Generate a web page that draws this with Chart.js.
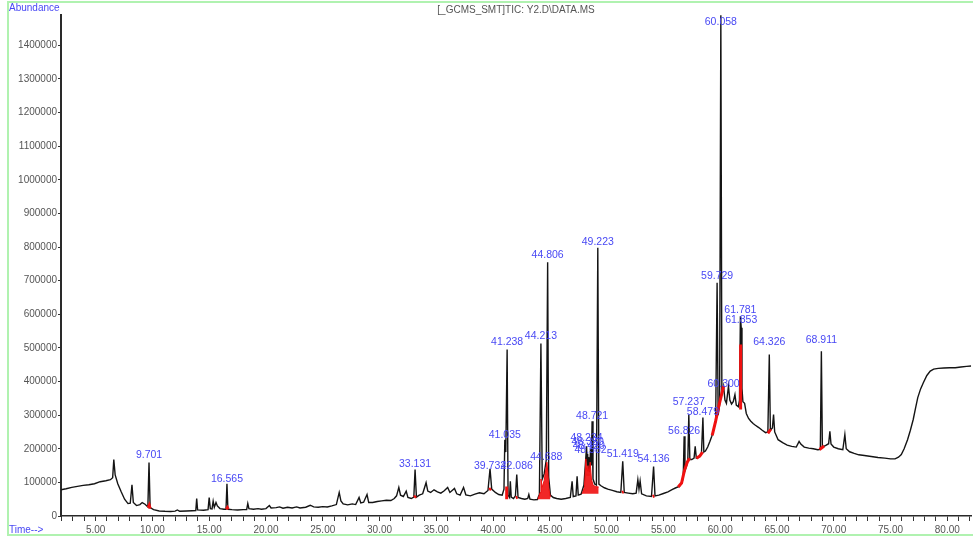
<!DOCTYPE html>
<html>
<head>
<meta charset="utf-8">
<script src="https://cdn.jsdelivr.net/npm/chart.js@4.4.1/dist/chart.umd.min.js"></script>
<style>
  html, body { margin: 0; padding: 0; background: #fff; }
  #wrap { width: 973px; height: 539px; position: relative; }
</style>
</head>
<body>
<div id="wrap"><canvas id="tic" width="973" height="539"></canvas></div>
<script>
// Total ion chromatogram: [retention time (min), abundance]
const traceEarly = [
  [1.95,78000],[2.4,81000],[2.9,85000],[3.4,88000],[3.9,91000],[4.4,93000],[4.9,96000],[5.4,102000],
  [5.9,105000],[6.3,108000],[6.5,114000],[6.6,168000],[6.72,122000],[6.95,96000],[7.25,72000],[7.55,50000],
  [7.85,37000],[8.05,38000],[8.2,93000],[8.32,40000],[8.6,31000],[8.9,34000],[9.1,40000],[9.35,35000],
  [9.6,27000],[9.701,159000],[9.8,25000],[10.1,19000],[10.6,15000],[11.1,14000],[11.6,13500],[12.0,14500],
  [12.2,18000],[12.4,14000],[13.0,15000],[13.5,15500],[13.82,16000],[13.9,52000],[13.98,18000],[14.5,17000],
  [14.9,19000],[15.0,55000],[15.1,22000],[15.25,21000],[15.35,44000],[15.45,26000],[15.6,40000],[15.72,30000],
  [15.95,22000],[16.3,20000],[16.48,20000],[16.565,96000],[16.65,20000],[17.0,19000],[17.5,18000],[18.0,19000],
  [18.3,19000],[18.4,37000],[18.5,22000],[18.9,20000],[19.3,22000],[19.6,20000],[20.0,22000],[20.3,31000],
  [20.45,24000],[20.9,25000],[21.2,27000],[21.5,23000],[21.9,26000],[22.3,24000],[22.7,27000],[23.0,24000],
  [23.5,26000],[23.9,32000],[24.2,27000],[24.6,26000],[25.0,28000],[25.4,27000],[25.8,30000],[26.2,34000],
  [26.45,70000],[26.6,45000],[26.8,36000],[27.2,33000],[27.6,36000],[27.9,34000],[28.2,55000],[28.35,39000],
  [28.6,41000],[28.9,64000],[29.05,40000],[29.4,40000],[29.8,43000],[30.2,45000],[30.6,47000],[31.0,46000],
  [31.3,52000],[31.5,60000],[31.7,85000],[31.85,62000],[32.1,58000],[32.35,74000],[32.5,55000],[32.8,52000],
  [33.02,56000],[33.131,138000],[33.25,56000],[33.5,62000],[33.8,66000],[34.1,99000],[34.25,74000],[34.5,70000],
  [34.8,78000],[35.1,72000],[35.4,68000],[35.7,75000],[36.0,85000],[36.2,70000],[36.6,82000],[36.8,66000],
  [37.1,62000],[37.4,85000],[37.6,63000],[38.0,60000],[38.4,65000],[38.8,69000],[39.2,66000],[39.55,76000],
  [39.732,140000],[39.88,80000],[40.2,70000],[40.5,64000]
];
const traceMid = [
  [40.8,62000],[40.96,80000],[41.035,227000],[41.12,190000],[41.238,495000],[41.32,62000],[41.45,55000],
  [41.52,103000],[41.6,56000],[41.8,52000],[41.97,60000],[42.086,123000],[42.2,55000],[42.5,52000],
  [42.8,50000],[43.05,52000],[43.15,64000],[43.25,50000],[43.6,48000],[43.9,49000],[44.08,65000],
  [44.213,513000],[44.33,110000],[44.5,125000],[44.688,168000],[44.806,755000],[44.9,115000],[45.05,62000],
  [45.3,55000],[45.6,52000],[46.0,50000],[46.4,52000],[46.8,55000],[46.96,103000],[47.06,58000],[47.3,60000],
  [47.4,118000],[47.5,62000],[47.75,65000],[48.0,92000],[48.12,150000],[48.234,207000],[48.29,150000],
  [48.33,185000],[48.38,140000],[48.42,175000],[48.5,130000],[48.582,200000],[48.65,150000],[48.721,282000],
  [48.8,110000],[48.95,95000],[49.1,92000],[49.223,798000],[49.32,95000],[49.5,90000],[49.8,84000],
  [50.1,80000],[50.5,76000],[50.9,72000],[51.25,70000],[51.419,163000],[51.55,70000],[51.9,68000],
  [52.3,66000],[52.6,68000],[52.75,108000],[52.85,80000],[52.95,104000],[53.08,66000],[53.5,60000],
  [53.95,58000],[54.136,147000],[54.26,60000],[54.6,62000],[55.0,67000],[55.4,72000],[55.8,79000]
];
const traceLate = [
  [56.1,84000],[56.4,88000],[56.65,100000],[56.75,120000],[56.826,237000],[56.9,135000],[57.05,150000],
  [57.15,165000],[57.237,302000],[57.33,168000],[57.5,168000],[57.7,172000],[57.8,207000],[57.9,172000],
  [58.1,174000],[58.35,185000],[58.479,293000],[58.56,190000],[58.7,193000],[58.9,205000],[59.1,222000],
  [59.26,237000],[59.45,260000],[59.6,280000],[59.729,694000],[59.82,300000],[59.95,330000],[60.058,1489000],
  [60.15,360000],[60.3,386000],[60.42,345000],[60.55,335000],[60.73,386000],[60.85,345000],[61.0,333000],
  [61.15,340000],[61.3,361000],[61.42,330000],[61.6,325000],[61.7,345000],[61.781,594000],[61.853,560000],
  [61.92,380000],[62.0,340000],[62.15,335000],[62.3,305000],[62.5,290000],[62.7,282000],[62.9,275000],
  [63.1,270000],[63.4,263000],[63.7,255000],[64.0,248000],[64.2,250000],[64.326,480000],[64.42,255000],
  [64.6,262000],[64.7,302000],[64.8,250000],[65.1,227000],[65.5,218000],[65.9,211000],[66.3,207000],
  [66.7,205000],[66.95,222000],[67.1,214000],[67.4,205000],[67.8,202000],[68.2,200000],[68.6,197000],
  [68.82,198000],[68.911,490000],[69.0,205000],[69.3,210000],[69.55,215000],[69.66,252000],[69.76,214000],
  [70.0,205000],[70.4,200000],[70.8,197000],[70.98,242000],[71.1,200000],[71.4,191000],[71.8,186000],
  [72.2,182000],[72.7,180000],[73.3,177000],[73.9,174000],[74.5,172000],[75.0,170000],[75.4,170000],
  [75.7,175000],[75.95,183000],[76.2,200000],[76.5,227000],[76.75,255000],[77.0,287000],[77.2,320000],
  [77.4,352000],[77.65,378000],[77.9,397000],[78.2,418000],[78.5,431000],[78.8,437000],[79.2,439000],
  [79.7,440000],[80.2,441000],[80.7,441000],[81.2,443000],[81.7,445000],[82.1,446000]
];

// Integration marks (red) at the foot of the integrated peaks
const integrationMarks = [
  [[9.62,25000],[9.72,32000],[9.8,22000]],
  [[16.5,20000],[16.6,25000],[16.68,20000]],
  [[33.05,55000],[33.2,60000]],
  [[39.65,78000],[39.82,82000]],
  [[41.2,50000],[41.2,88000]],
  [[42.0,54000],[42.15,56000]],
  [[51.35,70000],[51.5,72000]],
  [[54.05,58000],[54.2,60000]],
  [[56.3,86000],[56.6,98000],[56.85,135000],[57.1,160000],[57.3,172000]],
  [[57.9,172000],[58.2,178000],[58.45,190000]],
  [[59.3,240000],[59.6,282000],[59.9,330000],[60.3,386000]],
  [[61.8,317000],[61.8,510000]],
  [[64.2,246000],[64.45,258000]],
  [[68.75,198000],[69.15,208000]]
];
const integratedArea44 = [[43.95,50000],[44.15,70000],[44.22,110000],[44.32,85000],[44.5,105000],
  [44.65,140000],[44.74,160000],[44.82,130000],[44.92,80000],[45.05,56000]];
const integratedArea48 = [[47.85,66000],[48.05,85000],[48.17,170000],[48.27,120000],[48.36,150000],
  [48.45,120000],[48.55,160000],[48.66,110000],[48.8,92000],[49.0,88000],[49.3,86000]];

// Peak annotations: retention time and the abundance level the label sits at
const peakTimes = [9.701,16.565,33.131,39.732,41.035,41.238,42.086,44.213,44.688,44.806,48.234,48.330,
  48.420,48.582,48.721,49.223,51.419,54.136,56.826,57.237,58.479,59.729,60.058,60.300,61.781,61.853,64.326,68.911];
const labelLevels = [180000,111000,153000,147000,240000,516000,147000,535000,174000,775000,231000,219000,
  207000,195000,296000,816000,183000,168000,251000,338000,308000,713000,1470000,393000,613000,583000,517000,523000];

// Axis ranges and labelled tick values
const xRange = [1.95, 82.1];
const yRange = [0, 1490000];
const yTickValues = [0,100000,200000,300000,400000,500000,600000,700000,800000,900000,
  1000000,1100000,1200000,1300000,1400000];

const FONT = "'Liberation Sans', Arial, sans-serif";
const BLUE = '#4848f4';
const RED = '#f01010';

const toXY = arr => arr.map(p => ({ x: p[0], y: p[1] }));
const trace = toXY([...traceEarly, ...traceMid, ...traceLate]);

const datasets = [{
  data: trace, borderColor: '#141414', borderWidth: 1.4, pointRadius: 0, tension: 0, order: 1, fill: false
}];
integrationMarks.forEach(seg => datasets.push({
  data: toXY(seg), borderColor: RED, borderWidth: 3, pointRadius: 0, tension: 0, order: 0, fill: false
}));
[integratedArea44, integratedArea48].forEach(area => datasets.push({
  data: toXY(area), borderColor: RED, backgroundColor: 'rgba(240,16,16,0.9)', borderWidth: 1, pointRadius: 0,
  tension: 0, order: 0, fill: { target: { value: area[0][1] } }
}));

const decorations = {
  id: 'decorations',
  beforeDraw(chart) {
    const c = chart.ctx;
    c.save();
    c.fillStyle = '#fff';
    c.fillRect(0, 0, chart.width, chart.height);
    c.strokeStyle = '#b0f2b0';
    c.lineWidth = 2;
    c.beginPath();
    c.moveTo(990, 2); c.lineTo(8, 2); c.lineTo(8, 535); c.lineTo(990, 535);
    c.stroke();
    c.restore();
  },
  afterDraw(chart) {
    const c = chart.ctx;
    c.save();
    c.textBaseline = 'middle';
    c.font = '10px ' + FONT;
    c.fillStyle = BLUE;
    c.textAlign = 'left';
    c.fillText('Abundance', 9, 8);
    c.fillText('Time-->', 9, 530);
    c.fillStyle = '#555';
    c.textAlign = 'center';
    c.fillText('[_GCMS_SMT]TIC: Y2.D\\DATA.MS', 516, 10);
    c.restore();
  },
  afterDatasetsDraw(chart) {
    const c = chart.ctx, xs = chart.scales.x, ys = chart.scales.y;
    c.save();
    c.font = '10.5px ' + FONT;
    c.fillStyle = BLUE;
    c.textAlign = 'center';
    c.textBaseline = 'middle';
    peakTimes.forEach((t, i) => {
      c.fillText(t.toFixed(3), xs.getPixelForValue(t), ys.getPixelForValue(labelLevels[i]));
    });
    c.restore();
  }
};

new Chart(document.getElementById('tic'), {
  type: 'line',
  data: { datasets },
  plugins: [decorations],
  options: {
    responsive: false,
    animation: false,
    layout: { padding: { top: 15, right: 1, left: 0, bottom: 0 } },
    plugins: { legend: { display: false }, tooltip: { enabled: false }, title: { display: false } },
    scales: {
      x: {
        type: 'linear', min: xRange[0], max: xRange[1],
        border: { display: true, color: '#2a2a2a', width: 1.5 },
        grid: { drawOnChartArea: false, drawTicks: true, tickLength: 5, tickColor: '#333', tickWidth: 1 },
        ticks: {
          stepSize: 1, includeBounds: false, autoSkip: false, maxRotation: 0, minRotation: 0, padding: 3,
          color: '#555', font: { family: FONT, size: 10 },
          callback: v => (Math.abs(v - Math.round(v / 5) * 5) < 1e-6 ? Number(v).toFixed(2) : '')
        },
        afterFit: s => { s.height = 23; }
      },
      y: {
        min: yRange[0], max: yRange[1],
        border: { display: true, color: '#2a2a2a', width: 2 },
        grid: { drawOnChartArea: false, drawTicks: true, tickLength: 3, tickColor: '#333', tickWidth: 1 },
        ticks: {
          autoSkip: false, padding: 1, color: '#555',
          font: { family: FONT, size: 10 },
          callback: v => String(Math.round(v))
        },
        afterBuildTicks: s => { s.ticks = yTickValues.map(v => ({ value: v })); },
        afterFit: s => { s.width = 61; }
      }
    }
  }
});
</script>
</body>
</html>
